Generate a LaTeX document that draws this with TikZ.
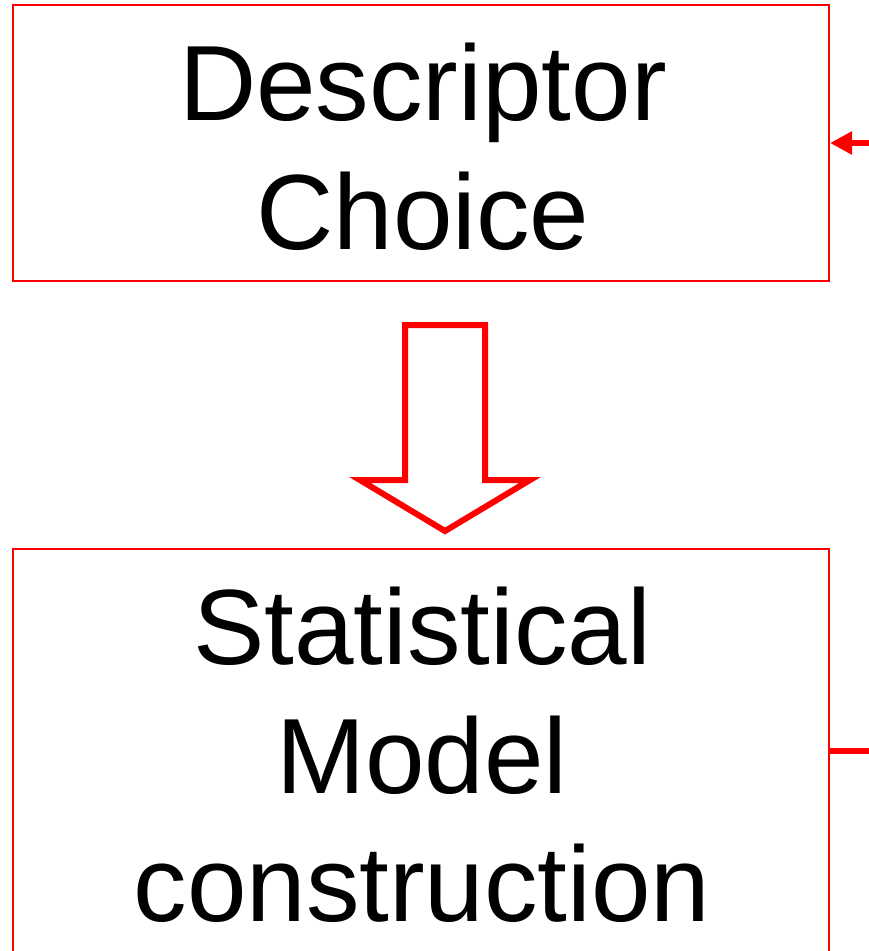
\documentclass[tikz,border=0pt]{standalone}
\usepackage{fontspec}
\setmainfont{Liberation Sans}
\usetikzlibrary{arrows.meta}
\begin{document}
\begin{tikzpicture}[x=1pt,y=-1pt,
  boxstyle/.style={draw=red, line width=2pt, inner sep=0pt},
  labelstyle/.style={align=center, font=\fontsize{107}{128.5}\selectfont, inner sep=0pt},
  hollow/.style={draw=red, line width=6pt, line join=miter},
  feed/.style={draw=red, line width=6.5pt}]
\useasboundingbox (0,0) rectangle (869,951);
\clip (0,0) rectangle (869,951);
% top box
\node[boxstyle, minimum width=816pt, minimum height=276pt] (top) at (421,143) {};
\node[labelstyle] (toptext) at (423,147) {Descriptor\\Choice};
% bottom box (runs past the lower edge)
\node[boxstyle, minimum width=816pt, minimum height=420pt] (bot) at (421,759) {};
\node[labelstyle] (bottext) at (422,755) {Statistical\\Model\\construction};
% hollow down arrow
\draw[hollow] (405,325) -- (485,325) -- (485,480) -- (530,480) -- (445,531)
  -- (360,480) -- (405,480) -- cycle;
% right side connectors
\coordinate (inR) at (869,143);
\coordinate (outR) at (869,751);
\draw[feed, -{Triangle[length=22pt,width=22pt]}] (inR) -- (inR -| top.east);
\draw[feed] (outR -| bot.east) -- (outR);
\end{tikzpicture}
\end{document}
